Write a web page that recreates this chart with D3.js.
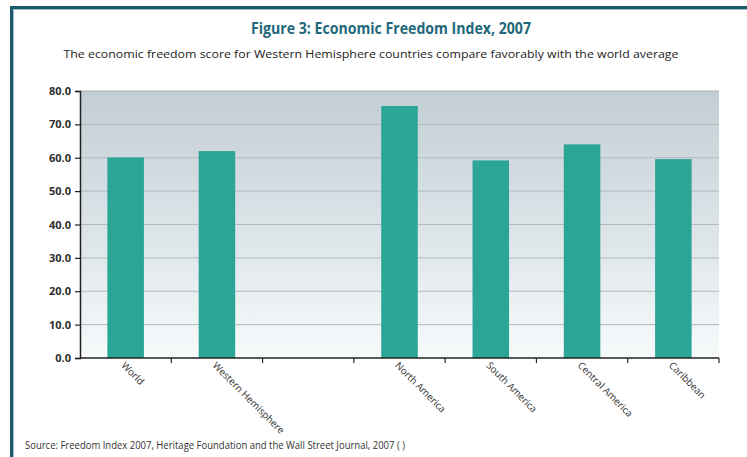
<!DOCTYPE html>
<html>
<head>
<meta charset="utf-8">
<script src="https://cdn.jsdelivr.net/npm/d3@7/dist/d3.min.js"></script>
<style>
  html, body { margin: 0; padding: 0; background: #fff; }
  svg { display: block; }
</style>
</head>
<body>
<svg id="chart" width="747" height="457"></svg>
<script>
// Economic Freedom Index scores, 2007 (blank slot separates world/hemisphere from regions)
const categories = ["World", "Western Hemisphere", "", "North America", "South America", "Central America", "Caribbean"];
const scores = [60.1, 62.0, null, 75.5, 59.2, 64.0, 59.6];
const yTicks = [0, 10, 20, 30, 40, 50, 60, 70, 80];

const W = 747, H = 457;
const margin = { left: 80, right: 28, top: 91, bottom: 99 };
const font = "'Open Sans', 'DejaVu Sans', sans-serif";

const svg = d3.select("#chart");

// page frame: dark teal rule along top and left edges
svg.append("rect").attr("x", 10).attr("y", 6).attr("width", W - 10).attr("height", 3).attr("fill", "#1c5b6b");
svg.append("rect").attr("x", 10).attr("y", 6).attr("width", 3).attr("height", H - 6).attr("fill", "#1c5b6b");
svg.append("rect").attr("x", 13).attr("y", 9).attr("width", W - 13).attr("height", 1).attr("fill", "#9fbcc4");
svg.append("rect").attr("x", 13).attr("y", 9).attr("width", 1).attr("height", H - 9).attr("fill", "#9fbcc4");

// headings
svg.append("text")
  .attr("x", 391).attr("y", 34)
  .attr("text-anchor", "middle")
  .attr("font-family", font).attr("font-weight", 700).attr("font-size", 16.5)
  .attr("fill", "#22687a")
  .attr("textLength", 280).attr("lengthAdjust", "spacingAndGlyphs")
  .text("Figure 3: Economic Freedom Index, 2007");

svg.append("text")
  .attr("x", 371).attr("y", 58)
  .attr("text-anchor", "middle")
  .attr("font-family", font).attr("font-size", 11.5)
  .attr("fill", "#222")
  .attr("textLength", 615).attr("lengthAdjust", "spacingAndGlyphs")
  .text("The economic freedom score for Western Hemisphere countries compare favorably with the world average");

const x = d3.scaleBand()
  .domain(d3.range(categories.length))
  .range([margin.left, W - margin.right])
  .paddingInner(0.6).paddingOuter(0.3);

const y = d3.scaleLinear().domain([0, 80]).range([H - margin.bottom, margin.top]);

// plot background gradient
const defs = svg.append("defs");
const grad = defs.append("linearGradient").attr("id", "bg").attr("x1", 0).attr("y1", 0).attr("x2", 0).attr("y2", 1);
grad.append("stop").attr("offset", "0%").attr("stop-color", "#c3ced4");
grad.append("stop").attr("offset", "55%").attr("stop-color", "#dde5e9");
grad.append("stop").attr("offset", "100%").attr("stop-color", "#f7fafb");

const x0 = margin.left, x1 = W - margin.right;
svg.append("rect")
  .attr("x", x0).attr("y", y(80))
  .attr("width", x1 - x0).attr("height", y(0) - y(80))
  .attr("fill", "url(#bg)");

// horizontal gridlines
svg.append("g")
  .selectAll("line")
  .data(yTicks.filter(d => d > 0))
  .join("line")
  .attr("x1", x0).attr("x2", x1)
  .attr("y1", d => y(d)).attr("y2", d => y(d))
  .attr("stroke", d => d === 80 ? "#a8b1b5" : "#b2babe")
  .attr("stroke-width", 1);

// bars
svg.append("g")
  .selectAll("rect")
  .data(scores.map((v, i) => ({ v, i })).filter(d => d.v != null))
  .join("rect")
  .attr("x", d => x(d.i))
  .attr("width", x.bandwidth())
  .attr("y", d => y(d.v))
  .attr("height", d => y(0) - y(d.v))
  .attr("fill", "#2aa596");

// y axis
const yAxis = d3.axisLeft(y).tickValues(yTicks).tickFormat(d3.format(".1f")).tickSize(5).tickPadding(4);
const gy = svg.append("g").attr("transform", `translate(${x0},0)`).call(yAxis);
gy.select(".domain").attr("stroke", "#222").attr("stroke-width", 1.5);
gy.selectAll(".tick line").attr("stroke", "#222").attr("stroke-width", 1.2);
gy.selectAll(".tick text")
  .attr("font-family", font).attr("font-weight", 700).attr("font-size", 11)
  .attr("fill", "#2e2e2e");

// x axis: ticks at band boundaries
const bounds = d3.range(categories.length + 1).map(i => x0 + i * (x1 - x0) / categories.length);
const gx = svg.append("g");
gx.append("line")
  .attr("x1", x0).attr("x2", x1)
  .attr("y1", y(0)).attr("y2", y(0))
  .attr("stroke", "#222").attr("stroke-width", 1.5);
gx.selectAll("line.tk")
  .data(bounds.slice(1))
  .join("line").attr("class", "tk")
  .attr("x1", d => d).attr("x2", d => d)
  .attr("y1", y(0)).attr("y2", y(0) + 5)
  .attr("stroke", "#222").attr("stroke-width", 1.2);

// rotated category labels
gx.selectAll("text")
  .data(categories.map((c, i) => ({ c, i })).filter(d => d.c))
  .join("text")
  .attr("transform", d => `translate(${x(d.i) + x.bandwidth() / 2 - 5},${y(0) + 8}) rotate(45)`)
  .attr("font-family", font).attr("font-size", 9.8)
  .attr("fill", "#333")
  .text(d => d.c);

// source line
svg.append("text")
  .attr("x", 25).attr("y", 449)
  .attr("font-family", font).attr("font-size", 10)
  .attr("fill", "#333")
  .attr("textLength", 380).attr("lengthAdjust", "spacingAndGlyphs")
  .text("Source: Freedom Index 2007, Heritage Foundation and the Wall Street Journal, 2007 ( )");
</script>
</body>
</html>
